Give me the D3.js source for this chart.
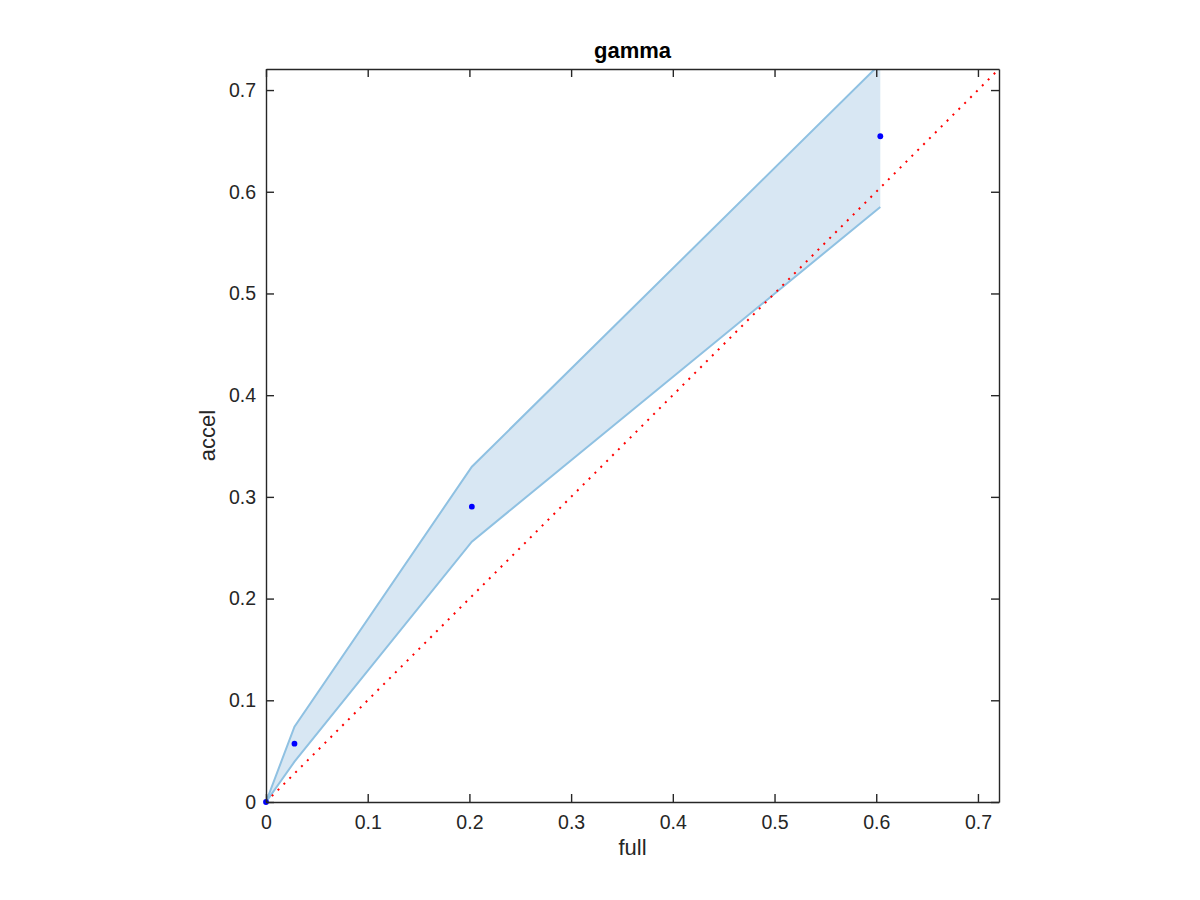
<!DOCTYPE html>
<html>
<head>
<meta charset="utf-8">
<script src="https://cdn.jsdelivr.net/npm/d3@7"></script>
<style>
  html, body { margin: 0; padding: 0; background: #fff; }
  svg { display: block; }
  text { font-family: "Liberation Sans", Arial, Helvetica, sans-serif; fill: #262626; }
</style>
</head>
<body>
<div id="chart"></div>
<script>
// ---- data ----
const fullVals  = [0, 0.0280, 0.2024, 0.604];
const accelVals = [0, 0.0573, 0.2904, 0.6546];
const upperVals = [0, 0.0740, 0.3297, 0.726];
const lowerVals = [0, 0.0396, 0.2560, 0.585];
const tickVals  = [0, 0.1, 0.2, 0.3, 0.4, 0.5, 0.6, 0.7];
const axisMax   = 0.7207;
const titleText = "gamma";
const xLabel = "full";
const yLabel = "accel";

// ---- layout ----
const W = 1200, H = 900;
const plotLeft = 266, plotTop = 69, plotSize = 733;

const svg = d3.select("#chart").append("svg").attr("width", W).attr("height", H);

const x = d3.scaleLinear().domain([0, axisMax]).range([plotLeft, plotLeft + plotSize]);
const y = d3.scaleLinear().domain([0, axisMax]).range([plotTop + plotSize, plotTop]);

svg.append("defs").append("clipPath").attr("id", "clip")
  .append("rect").attr("x", plotLeft).attr("y", plotTop).attr("width", plotSize).attr("height", plotSize);

const g = svg.append("g").attr("clip-path", "url(#clip)");

const pts = fullVals.map((v, i) => ({ x: v, y: accelVals[i], up: upperVals[i], lo: lowerVals[i] }));

// band
const area = d3.area().x(d => x(d.x)).y0(d => y(d.lo)).y1(d => y(d.up));
g.append("path").datum(pts).attr("d", area).attr("fill", "#d8e7f3").attr("stroke", "none");
const lineUp = d3.line().x(d => x(d.x)).y(d => y(d.up));
const lineLo = d3.line().x(d => x(d.x)).y(d => y(d.lo));
g.append("path").datum(pts).attr("d", lineUp).attr("fill", "none").attr("stroke", "#8fc1e2").attr("stroke-width", 2);
g.append("path").datum(pts).attr("d", lineLo).attr("fill", "none").attr("stroke", "#8fc1e2").attr("stroke-width", 2);

// identity line
g.append("line")
  .attr("x1", x(0)).attr("y1", y(0)).attr("x2", x(axisMax)).attr("y2", y(axisMax))
  .attr("stroke", "#ff0000").attr("stroke-width", 2).attr("stroke-dasharray", "2 6.3");

// points
svg.append("g").selectAll("circle").data(pts).join("circle")
  .attr("cx", d => x(d.x)).attr("cy", d => y(d.y)).attr("r", 2.9).attr("fill", "#0000ff");

// axes (MATLAB-like box with inward ticks)
const tickLen = 8;
const axColor = "#262626";
const axB = d3.axisBottom(x).tickValues(tickVals).tickSizeInner(-tickLen).tickSizeOuter(0).tickPadding(13).tickFormat(d3.format("~g"));
const axT = d3.axisTop(x).tickValues(tickVals).tickSizeInner(-tickLen).tickSizeOuter(0).tickFormat("");
const axL = d3.axisLeft(y).tickValues(tickVals).tickSizeInner(-tickLen).tickSizeOuter(0).tickPadding(10).tickFormat(d3.format("~g"));
const axR = d3.axisRight(y).tickValues(tickVals).tickSizeInner(-tickLen).tickSizeOuter(0).tickFormat("");

function style(sel) {
  sel.select(".domain").attr("stroke", axColor).attr("stroke-width", 1.4);
  sel.selectAll(".tick line").attr("stroke", axColor).attr("stroke-width", 1.4);
  sel.selectAll(".tick text").attr("font-size", 19.5).attr("fill", axColor)
     .style("font-family", '"Liberation Sans", Arial, sans-serif');
}
svg.append("g").attr("transform", `translate(0,${plotTop + plotSize})`).call(axB).call(style);
svg.append("g").attr("transform", `translate(0,${plotTop})`).call(axT).call(style);
svg.append("g").attr("transform", `translate(${plotLeft},0)`).call(axL).call(style);
svg.append("g").attr("transform", `translate(${plotLeft + plotSize},0)`).call(axR).call(style);

// labels
svg.append("text").attr("x", plotLeft + plotSize / 2).attr("y", 58).attr("text-anchor", "middle")
  .attr("font-size", 22).attr("font-weight", "bold").style("fill", "#000").text(titleText);
svg.append("text").attr("x", plotLeft + plotSize / 2).attr("y", 855).attr("text-anchor", "middle")
  .attr("font-size", 22).text(xLabel);
svg.append("text").attr("transform", `translate(215,${plotTop + plotSize / 2}) rotate(-90)`).attr("text-anchor", "middle")
  .attr("font-size", 22).text(yLabel);
</script>
</body>
</html>
